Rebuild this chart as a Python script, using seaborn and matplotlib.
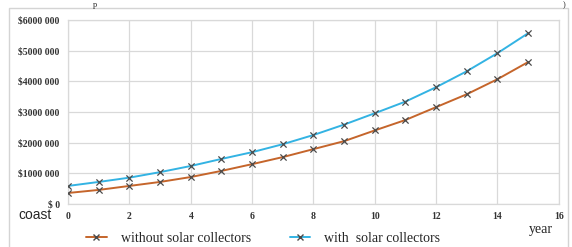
import numpy as np
import pandas as pd
import seaborn as sns
import matplotlib.pyplot as plt
from matplotlib.patches import Rectangle
from matplotlib.lines import Line2D

years = list(range(0, 16))
without_solar = [0.36, 0.46, 0.59, 0.72, 0.88, 1.08, 1.30, 1.53, 1.79, 2.05,
                 2.40, 2.74, 3.16, 3.58, 4.07, 4.63]
with_solar = [0.59, 0.72, 0.86, 1.04, 1.24, 1.47, 1.69, 1.95, 2.25, 2.59,
              2.96, 3.34, 3.81, 4.33, 4.92, 5.57]
series_names = ["without solar collectors", "with  solar collectors"]
colors = ["#C5652B", "#33B3E3"]
y_ticks = [0, 1, 2, 3, 4, 5, 6]
y_labels = ["$ 0", "$1000 000", "$2000 000", "$3000 000", "$4000 000",
            "$5000 000", "$6000 000"]

df = pd.DataFrame({
    "year": years * 2,
    "cost": np.array(without_solar + with_solar) * 1e6,
    "series": [series_names[0]] * len(years) + [series_names[1]] * len(years),
})

sns.set_style("white")
plt.rcParams['font.family'] = ['Liberation Serif', 'DejaVu Serif']

fig = plt.figure(figsize=(5.72, 2.47), dpi=100)
ax = fig.add_axes([0.119, 0.174, 0.858, 0.745])

sns.lineplot(data=df, x="year", y="cost", hue="series", palette=colors,
             linewidth=1.4, legend=False, ax=ax)
for name in series_names:
    sub = df[df.series == name]
    ax.scatter(sub["year"], sub["cost"], marker="x", s=20, color="#4a4a4a",
               linewidths=0.9, zorder=5)

ax.set_xlim(0, 16)
ax.set_ylim(0, 6e6)
ax.set_xticks(range(0, 17, 2))
ax.set_xticklabels([str(v) for v in range(0, 17, 2)], fontsize=7, fontweight="bold")
ax.set_yticks([v * 1e6 for v in y_ticks])
ax.set_yticklabels(y_labels, fontsize=7, fontweight="bold")
for lbl in ax.get_xticklabels() + ax.get_yticklabels():
    lbl.set_color("#333333")
ax.tick_params(length=0, pad=6)
ax.grid(True, color="#d9d9d9", linewidth=0.9)
for sp in ax.spines.values():
    sp.set_color("#d9d9d9")
    sp.set_linewidth(0.9)
ax.set_xlabel("")
ax.set_ylabel("")

fig.text(0.032, 0.13, "coast", fontsize=10, family="Liberation Sans", va="center")
fig.text(0.925, 0.07, "year", fontsize=10, va="center")

handles = [Line2D([], [], color=c, marker="x", markeredgecolor="#4a4a4a",
                  markersize=4, linewidth=1.4) for c in colors]
fig.legend(handles, series_names, loc="center", bbox_to_anchor=(0.46, 0.035),
           ncol=2, frameon=False, fontsize=10, handlelength=1.5,
           columnspacing=2.8, handletextpad=1.0)

fig.patches.append(Rectangle((0.015, -0.1), 0.978, 1.068, transform=fig.transFigure,
                             fill=False, edgecolor="#d4d4d4", linewidth=1.0))
fig.text(0.163, 0.997, "p", fontsize=6, va="top")
fig.text(0.983, 0.997, ")", fontsize=6, va="top")

fig.savefig("out.png", dpi=100)
